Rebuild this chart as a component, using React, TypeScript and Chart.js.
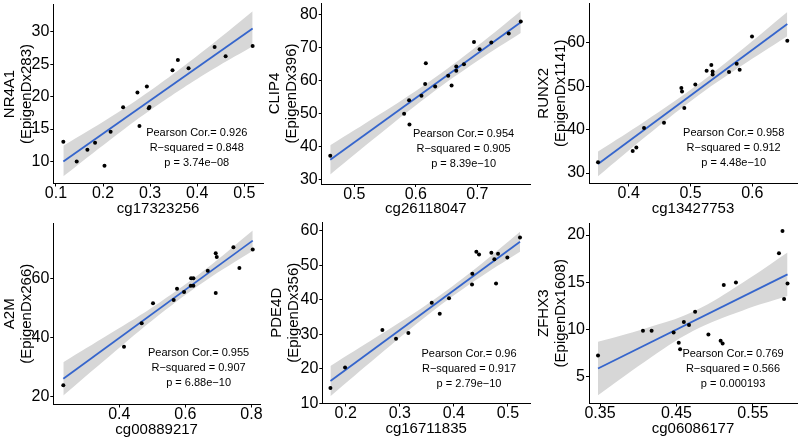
import React, { useEffect, useRef } from "react";
import { Chart, registerables } from "chart.js";

Chart.register(...registerables);

// ---------------- DATA ----------------
// Panel 1: NR4A1 vs cg17323256
const nr4a1X = [0.1156, 0.144, 0.1667, 0.183, 0.203, 0.216, 0.2426, 0.273, 0.2773, 0.293, 0.297, 0.2986, 0.3475, 0.3589, 0.3816, 0.4369, 0.4603, 0.5177];
const nr4a1Y = [13.05, 10.0, 11.8, 12.9, 9.33, 14.6, 18.37, 20.65, 15.48, 21.58, 18.2, 18.4, 24.06, 25.66, 24.37, 27.67, 26.23, 27.83];
const nr4a1FitX = [0.1156, 0.5177];
const nr4a1FitY = [10.0, 30.52];
const nr4a1BandX = [0.1156, 0.216, 0.3, 0.4165, 0.5177];
const nr4a1BandLo = [7.7, 13.4, 17.9, 23.5, 27.8];
const nr4a1BandHi = [12.4, 16.85, 20.9, 27.25, 33.2];
const nr4a1XTicks = [0.1, 0.2, 0.3, 0.4, 0.5];
const nr4a1YTicks = [10, 15, 20, 25, 30];
const nr4a1Stats = ["Pearson Cor.= 0.926", "R\u2212squared = 0.848", "p = 3.74e\u221208"];

// Panel 2: CLIP4 vs cg26118047
const clip4X = [0.4609, 0.581, 0.5891, 0.5897, 0.6092, 0.6152, 0.6163, 0.6315, 0.6527, 0.6582, 0.6658, 0.6658, 0.6783, 0.6946, 0.7038, 0.7228, 0.7511, 0.7707];
const clip4Y = [37.2, 49.9, 54.0, 46.7, 55.4, 58.9, 65.2, 58.2, 61.4, 58.5, 64.2, 62.9, 64.9, 71.6, 69.4, 71.5, 74.2, 77.8];
const clip4FitX = [0.4609, 0.7707];
const clip4FitY = [36.0, 77.6];
const clip4BandX = [0.4609, 0.54, 0.62, 0.7, 0.7707];
const clip4BandLo = [31.6, 43.6, 55.3, 65.85, 74.3];
const clip4BandHi = [40.4, 49.6, 59.4, 70.4, 81.0];
const clip4XTicks = [0.5, 0.6, 0.7];
const clip4YTicks = [30, 40, 50, 60, 70, 80];
const clip4Stats = ["Pearson Cor.= 0.954", "R\u2212squared = 0.905", "p = 8.39e\u221210"];

// Panel 3: RUNX2 vs cg13427753
const runx2X = [0.3504, 0.4065, 0.4124, 0.4248, 0.4571, 0.4852, 0.4863, 0.49, 0.5078, 0.5261, 0.5337, 0.5358, 0.5358, 0.5623, 0.5747, 0.5795, 0.5995, 0.6566];
const runx2Y = [32.5, 35.1, 35.9, 40.4, 41.6, 49.6, 48.8, 45.0, 50.4, 53.6, 54.9, 53.4, 52.7, 53.3, 55.2, 53.8, 61.5, 60.5];
const runx2FitX = [0.3504, 0.6566];
const runx2FitY = [32.1, 64.35];
const runx2BandX = [0.3504, 0.427, 0.505, 0.58, 0.6566];
const runx2BandLo = [29.25, 38.35, 47.1, 54.5, 61.55];
const runx2BandHi = [34.95, 42.0, 49.7, 58.1, 67.15];
const runx2XTicks = [0.4, 0.5, 0.6];
const runx2YTicks = [30, 40, 50, 60];
const runx2Stats = ["Pearson Cor.= 0.958", "R\u2212squared = 0.912", "p = 4.48e\u221210"];

// Panel 4: A2M vs cg00889217
const a2mX = [0.2303, 0.4141, 0.4677, 0.502, 0.5646, 0.5747, 0.596, 0.6162, 0.6172, 0.6242, 0.6242, 0.6677, 0.6919, 0.6919, 0.695, 0.7455, 0.7636, 0.804];
const a2mY = [23.9, 36.9, 44.8, 51.5, 52.6, 56.4, 55.3, 57.4, 60.0, 60.0, 57.4, 62.5, 55.0, 68.4, 67.1, 70.4, 63.4, 69.7];
const a2mFitX = [0.2303, 0.804];
const a2mFitY = [26.05, 72.66];
const a2mBandX = [0.2303, 0.37, 0.52, 0.66, 0.804];
const a2mBandLo = [20.45, 33.67, 47.55, 59.06, 69.26];
const a2mBandHi = [31.65, 41.13, 51.65, 62.88, 76.06];
const a2mXTicks = [0.4, 0.6, 0.8];
const a2mYTicks = [20, 40, 60];
const a2mStats = ["Pearson Cor.= 0.955", "R\u2212squared = 0.907", "p = 6.88e\u221210"];

// Panel 5: PDE4D vs cg16711835
const pde4dX = [0.1717, 0.1988, 0.2678, 0.293, 0.3158, 0.359, 0.3738, 0.391, 0.4335, 0.4341, 0.4415, 0.4465, 0.4693, 0.4748, 0.4816, 0.4779, 0.4988, 0.5222];
const pde4dY = [14.4, 20.3, 31.2, 28.7, 30.3, 39.1, 35.9, 40.4, 44.4, 47.5, 53.9, 53.1, 53.6, 51.7, 53.3, 44.7, 52.2, 58.0];
const pde4dFitX = [0.1717, 0.5222];
const pde4dFitY = [16.4, 56.8];
const pde4dBandX = [0.1717, 0.26, 0.35, 0.44, 0.5222];
const pde4dBandLo = [12.0, 23.71, 35.32, 45.6, 53.9];
const pde4dBandHi = [20.8, 29.45, 38.6, 49.06, 59.7];
const pde4dXTicks = [0.2, 0.3, 0.4, 0.5];
const pde4dYTicks = [10, 20, 30, 40, 50, 60];
const pde4dStats = ["Pearson Cor.= 0.96", "R\u2212squared = 0.917", "p = 2.79e\u221210"];

// Panel 6: ZFHX3 vs cg06086177
const zfhx3X = [0.3474, 0.4062, 0.4175, 0.4463, 0.453, 0.4548, 0.4597, 0.4664, 0.4744, 0.4918, 0.5078, 0.5104, 0.5119, 0.5278, 0.5841, 0.5887, 0.5908, 0.5953];
const zfhx3Y = [7.26, 9.87, 9.87, 9.69, 8.6, 7.93, 10.79, 10.47, 11.88, 9.48, 8.81, 8.53, 14.71, 14.99, 18.06, 20.43, 13.22, 14.88];
const zfhx3FitX = [0.3474, 0.5953];
const zfhx3FitY = [5.88, 15.84];
const zfhx3BandX = [0.3474, 0.4081, 0.4721, 0.536, 0.5953];
const zfhx3BandLo = [3.05, 6.57, 9.87, 12.0, 13.54];
const zfhx3BandHi = [8.71, 10.09, 11.91, 14.92, 18.14];
const zfhx3XTicks = [0.35, 0.45, 0.55];
const zfhx3YTicks = [5, 10, 15, 20];
const zfhx3Stats = ["Pearson Cor.= 0.769", "R\u2212squared = 0.566", "p = 0.000193"];

// ---------------- PANEL CONFIG (layout + axis ranges) ----------------
type Panel = {
  key: string;
  px: number[]; py: number[];
  fx: number[]; fy: number[];
  bx: number[]; blo: number[]; bhi: number[];
  xt: number[]; yt: number[];
  stats: string[];
  xTitle: string; yTitle: string[];
  xr: [number, number]; yr: [number, number];
  box: { l: number; t: number; r: number; b: number; titleX: number };
  ann: [number, number];
};

const PANELS: Panel[] = [
  {
    key: "p1", px: nr4a1X, py: nr4a1Y, fx: nr4a1FitX, fy: nr4a1FitY, bx: nr4a1BandX, blo: nr4a1BandLo, bhi: nr4a1BandHi,
    xt: nr4a1XTicks, yt: nr4a1YTicks, stats: nr4a1Stats, xTitle: "cg17323256", yTitle: ["NR4A1", "(EpigenDx283)"],
    xr: [0.0943, 0.5397], yr: [6.59, 34.23], box: { l: 53.3, t: 4.5, r: 263, b: 183.5, titleX: 9.5 }, ann: [0.399, 12.0],
  },
  {
    key: "p2", px: clip4X, py: clip4Y, fx: clip4FitX, fy: clip4FitY, bx: clip4BandX, blo: clip4BandLo, bhi: clip4BandHi,
    xt: clip4XTicks, yt: clip4YTicks, stats: clip4Stats, xTitle: "cg26118047", yTitle: ["CLIP4", "(EpigenDx396)"],
    xr: [0.447, 0.7857], yr: [28.7, 83.4], box: { l: 321.7, t: 3, r: 530, b: 184, titleX: 275 }, ann: [0.6777, 39.4],
  },
  {
    key: "p3", px: runx2X, py: runx2Y, fx: runx2FitX, fy: runx2FitY, bx: runx2BandX, blo: runx2BandLo, bhi: runx2BandHi,
    xt: runx2XTicks, yt: runx2YTicks, stats: runx2Stats, xTitle: "cg13427753", yTitle: ["RUNX2", "(EpigenDx1141)"],
    xr: [0.3358, 0.6723], yr: [27.6, 69.2], box: { l: 589, t: 3, r: 797, b: 183.5, titleX: 543.3 }, ann: [0.5698, 35.8],
  },
  {
    key: "p4", px: a2mX, py: a2mY, fx: a2mFitX, fy: a2mFitY, bx: a2mBandX, blo: a2mBandLo, bhi: a2mBandHi,
    xt: a2mXTicks, yt: a2mYTicks, stats: a2mStats, xTitle: "cg00889217", yTitle: ["A2M", "(EpigenDx266)"],
    xr: [0.2, 0.826], yr: [17.4, 78.6], box: { l: 53.3, t: 223, r: 260, b: 404.5, titleX: 9.3 }, ann: [0.64, 29.7],
  },
  {
    key: "p5", px: pde4dX, py: pde4dY, fx: pde4dFitX, fy: pde4dFitY, bx: pde4dBandX, blo: pde4dBandLo, bhi: pde4dBandHi,
    xt: pde4dXTicks, yt: pde4dYTicks, stats: pde4dStats, xTitle: "cg16711835", yTitle: ["PDE4D", "(EpigenDx356)"],
    xr: [0.1567, 0.5407], yr: [9.9, 62.5], box: { l: 322.3, t: 222, r: 530, b: 403.5, titleX: 276.7 }, ann: [0.428, 20.0],
  },
  {
    key: "p6", px: zfhx3X, py: zfhx3Y, fx: zfhx3FitX, fy: zfhx3FitY, bx: zfhx3BandX, blo: zfhx3BandLo, bhi: zfhx3BandHi,
    xt: zfhx3XTicks, yt: zfhx3YTicks, stats: zfhx3Stats, xTitle: "cg06086177", yTitle: ["ZFHX3", "(EpigenDx1608)"],
    xr: [0.3356, 0.6077], yr: [2.18, 21.27], box: { l: 589, t: 223, r: 797, b: 403.5, titleX: 543.3 }, ann: [0.524, 5.88],
  },
];

const FONT = '"Liberation Sans", Arial, Helvetica, sans-serif';
const TICK_SIZE = 16;
const TITLE_SIZE = 15;
const TITLE_LH = 1.15;
const X_AXIS_H = 25 + (TITLE_SIZE * TITLE_LH) / 2;

function layoutOf(p: Panel) {
  const { l, t, r, b, titleX } = p.box;
  const canvasLeft = Math.round(titleX - (TITLE_SIZE * TITLE_LH) / 2);
  const yW = l - canvasLeft;
  const canvasTop = Math.floor(t) - 12;
  const padTop = t - canvasTop;
  const canvasW = Math.ceil(r) + 14 - canvasLeft;
  const padRight = canvasLeft + canvasW - r;
  const canvasH = Math.ceil(b + X_AXIS_H) + 1 - canvasTop;
  const padBottom = canvasTop + canvasH - (b + X_AXIS_H);
  return { canvasLeft, canvasTop, canvasW, canvasH, yW, padTop, padRight, padBottom };
}

function PanelChart({ p }: { p: Panel }) {
  const ref = useRef<HTMLCanvasElement | null>(null);
  const lay = layoutOf(p);

  useEffect(() => {
    if (!ref.current) return;
    const pts = p.px.map((x, i) => ({ x, y: p.py[i] }));
    const fit = p.fx.map((x, i) => ({ x, y: p.fy[i] }));
    const hi = p.bx.map((x, i) => ({ x, y: p.bhi[i] }));
    const lo = p.bx.map((x, i) => ({ x, y: p.blo[i] }));

    const annot = {
      id: "annot_" + p.key,
      afterDatasetsDraw(chart: any) {
        const { ctx, scales } = chart;
        const cx = scales.x.getPixelForValue(p.ann[0]);
        const cy = scales.y.getPixelForValue(p.ann[1]);
        ctx.save();
        ctx.font = "11px " + FONT;
        ctx.fillStyle = "#000";
        ctx.textAlign = "center";
        ctx.textBaseline = "middle";
        p.stats.forEach((s, i) => ctx.fillText(s, cx, cy + (i - 1) * 15));
        ctx.restore();
      },
    };

    const chart = new Chart(ref.current, {
      type: "scatter",
      data: {
        datasets: [
          { type: "scatter", data: pts, pointRadius: 2, pointBackgroundColor: "#000", pointBorderWidth: 0, borderColor: "#000", order: 0 } as any,
          { type: "line", data: fit, borderColor: "#3565cc", borderWidth: 1.8, pointRadius: 0, fill: false, tension: 0, order: 1 } as any,
          { type: "line", data: hi, borderColor: "rgba(0,0,0,0)", borderWidth: 0, pointRadius: 0, fill: "+1", backgroundColor: "rgb(215,215,215)", tension: 0.4, order: 2 } as any,
          { type: "line", data: lo, borderColor: "rgba(0,0,0,0)", borderWidth: 0, pointRadius: 0, fill: false, tension: 0.4, order: 3 } as any,
        ],
      },
      options: {
        animation: false,
        responsive: true,
        maintainAspectRatio: false,
        events: [],
        layout: { padding: { left: 0, top: lay.padTop, right: lay.padRight, bottom: lay.padBottom } },
        plugins: { legend: { display: false }, tooltip: { enabled: false } },
        scales: {
          x: {
            type: "linear",
            min: p.xr[0],
            max: p.xr[1],
            bounds: "data",
            afterBuildTicks: (s: any) => { s.ticks = p.xt.map((v) => ({ value: v })); },
            afterFit: (s: any) => { s.height = X_AXIS_H; },
            ticks: { font: { size: TICK_SIZE, family: FONT, lineHeight: 1 }, color: "#000", padding: -0.5, maxRotation: 0, autoSkip: false, callback: (v: any) => String(v) },
            grid: { drawOnChartArea: false, drawTicks: true, tickLength: 3, tickColor: "#000", tickWidth: 1 },
            border: { display: true, color: "#000", width: 1 },
            title: { display: true, text: p.xTitle, font: { size: TITLE_SIZE, family: FONT, lineHeight: TITLE_LH }, color: "#000", padding: 0 },
          },
          y: {
            type: "linear",
            min: p.yr[0],
            max: p.yr[1],
            bounds: "data",
            afterBuildTicks: (s: any) => { s.ticks = p.yt.map((v) => ({ value: v })); },
            afterFit: (s: any) => { s.width = lay.yW; },
            ticks: { font: { size: TICK_SIZE, family: FONT, lineHeight: 1 }, color: "#000", padding: 1, autoSkip: false, callback: (v: any) => String(v) },
            grid: { drawOnChartArea: false, drawTicks: true, tickLength: 3, tickColor: "#000", tickWidth: 1 },
            border: { display: true, color: "#000", width: 1 },
            title: { display: true, text: p.yTitle, font: { size: TITLE_SIZE, family: FONT, lineHeight: TITLE_LH }, color: "#000", padding: 0 },
          },
        },
      } as any,
      plugins: [annot],
    });
    return () => chart.destroy();
  }, []);

  return (
    <div style={{ position: "absolute", left: lay.canvasLeft, top: lay.canvasTop, width: lay.canvasW, height: lay.canvasH }}>
      <canvas ref={ref} />
    </div>
  );
}

export default function App() {
  return (
    <div style={{ position: "fixed", left: 0, top: 0, width: 800, height: 440, overflow: "hidden", background: "#fff" }}>
      {PANELS.map((p) => (
        <PanelChart key={p.key} p={p} />
      ))}
    </div>
  );
}
